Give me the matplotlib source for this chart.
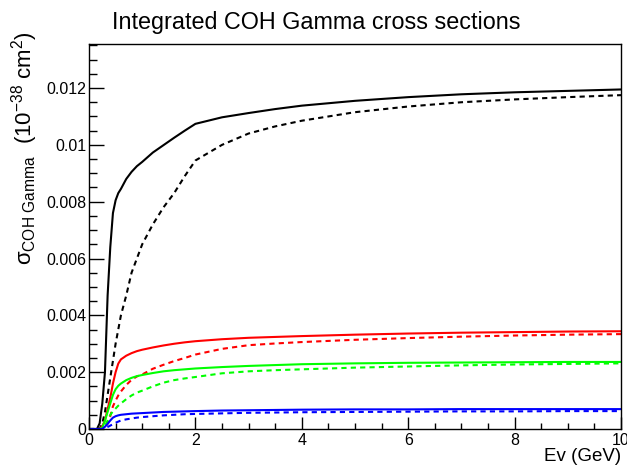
import matplotlib
matplotlib.use("Agg")
from matplotlib import pyplot as plt
from matplotlib.ticker import MultipleLocator

plt.rcParams['font.family'] = ['Liberation Sans', 'DejaVu Sans']
plt.rcParams['mathtext.fontset'] = 'custom'
plt.rcParams['mathtext.rm'] = 'Liberation Sans'
plt.rcParams['mathtext.it'] = 'Liberation Sans'
plt.rcParams['mathtext.bf'] = 'Liberation Sans:bold'

# neutrino energy grid (GeV)
energy = [0, 0.15, 0.2, 0.25, 0.3, 0.35, 0.4, 0.45, 0.5, 0.55, 0.6, 0.7, 0.8,
          0.9, 1.0, 1.2, 1.4, 1.6, 1.8, 2.0, 2.5, 3.0, 3.5, 4.0, 5.0, 6.0,
          7.0, 8.0, 9.0, 10.0]

# cross sections (1e-38 cm2)
black_solid = [0, 0, 0.0002, 0.0009, 0.002, 0.0047, 0.0064, 0.0076, 0.00805,
               0.0083, 0.00845, 0.0088, 0.00905, 0.00925, 0.0094, 0.00973,
               0.00999, 0.01025, 0.0105, 0.01074, 0.01097, 0.01112, 0.01126,
               0.01138, 0.01155, 0.01168, 0.01178, 0.01185, 0.0119, 0.01195]
black_dashed = [0, 0, 0, 0.0002, 0.0006, 0.0012, 0.0018, 0.0024, 0.0030,
                0.0035, 0.0040, 0.0047, 0.0055, 0.0060, 0.0065, 0.0072,
                0.0078, 0.0083, 0.0089, 0.00945, 0.0100, 0.0104, 0.01065,
                0.01085, 0.01115, 0.01135, 0.0115, 0.0116, 0.01168, 0.01175]
red_solid = [0, 0, 0, 0.0001, 0.0003, 0.0007, 0.0011, 0.0016, 0.0020,
             0.0023, 0.00245, 0.00258, 0.00267, 0.00274, 0.00279, 0.00287,
             0.00294, 0.0030, 0.00305, 0.00309, 0.00316, 0.00321, 0.00324,
             0.00327, 0.00332, 0.00336, 0.00339, 0.00341, 0.00343, 0.00344]
red_dashed = [0, 0, 0, 0, 0.00005, 0.0002, 0.00045, 0.0008, 0.0010, 0.00118,
              0.00132, 0.00155, 0.00173, 0.00185, 0.00192, 0.00212, 0.00226,
              0.00239, 0.0025, 0.00262, 0.00282, 0.00295, 0.00301, 0.00306,
              0.00314, 0.0032, 0.00325, 0.00329, 0.00332, 0.00334]
green_solid = [0, 0, 0, 0.00005, 0.0003, 0.0006, 0.0009, 0.0012, 0.0014,
               0.00152, 0.0016, 0.00172, 0.0018, 0.00186, 0.0019, 0.00197,
               0.00203, 0.00207, 0.0021, 0.00213, 0.00218, 0.00222, 0.00225,
               0.00228, 0.00231, 0.00233, 0.00234, 0.00235, 0.00236, 0.00236]
green_dashed = [0, 0, 0, 0, 0.0001, 0.0003, 0.0005, 0.00062, 0.00072,
                0.00082, 0.0009, 0.00105, 0.00118, 0.00128, 0.00135, 0.0015,
                0.00163, 0.00172, 0.00178, 0.00183, 0.00196, 0.00203, 0.00207,
                0.0021, 0.00216, 0.0022, 0.00224, 0.00227, 0.00229, 0.00231]
blue_solid = [0, 0, 0, 0, 0.00008, 0.00018, 0.0003, 0.0004, 0.00045,
              0.00048, 0.0005, 0.00052, 0.00054, 0.00055, 0.00056, 0.00058,
              0.0006, 0.00061, 0.00062, 0.00063, 0.00065, 0.00066, 0.00067,
              0.00068, 0.00069, 0.00069, 0.0007, 0.0007, 0.0007, 0.0007]
blue_dashed = [0, 0, 0, 0, 0.00003, 0.00007, 0.00012, 0.00017, 0.00022,
               0.00026, 0.0003, 0.00034, 0.00037, 0.0004, 0.00042, 0.00045,
               0.00048, 0.0005, 0.00052, 0.00053, 0.00055, 0.00057, 0.00058,
               0.00059, 0.0006, 0.00061, 0.00062, 0.00062, 0.00063, 0.00063]

curves = [
    (black_solid, 'black', '-'), (black_dashed, 'black', '--'),
    (red_solid, '#ff0000', '-'), (red_dashed, '#ff0000', '--'),
    (green_solid, '#00ff00', '-'), (green_dashed, '#00ff00', '--'),
    (blue_solid, '#0000ff', '-'), (blue_dashed, '#0000ff', '--'),
]

fig = plt.figure(figsize=(6.27, 4.65), dpi=100)
ax = fig.add_axes([89 / 627, 36 / 465, 532 / 627, 385 / 465])

for values, colour, style in curves:
    if style == '--':
        ax.plot(energy, values, color=colour, lw=1.5, linestyle=(0, (2.5, 2)),
                dash_joinstyle='round')
    else:
        ax.plot(energy, values, color=colour, lw=1.5, solid_joinstyle='round')

ax.set_xlim(0, 10)
ax.set_ylim(0, 0.01355)
ax.xaxis.set_minor_locator(MultipleLocator(0.5))
ax.yaxis.set_minor_locator(MultipleLocator(0.0005))
ax.set_xticks([0, 2, 4, 6, 8, 10], ['0', '2', '4', '6', '8', '10'])
ax.set_yticks([0, 0.002, 0.004, 0.006, 0.008, 0.01, 0.012],
              ['0', '0.002', '0.004', '0.006', '0.008', '0.01', '0.012'])

ax.tick_params(axis='both', which='both', direction='in', top=False,
               right=False, labelsize=11.5)
ax.tick_params(axis='y', which='major', length=11, width=1, pad=2)
ax.tick_params(axis='y', which='minor', length=6, width=1)
ax.tick_params(axis='x', which='major', length=9, width=1, pad=3)
ax.tick_params(axis='x', which='minor', length=4.5, width=1)
for sp in ax.spines.values():
    sp.set_linewidth(1)

fig.text(316 / 627, 1 - 22 / 465, 'Integrated COH Gamma cross sections',
         ha='center', va='center', fontsize=16.8)
fig.text(621 / 627, 1 - 456 / 465, 'Ev (GeV)', ha='right', va='center',
         fontsize=13.5)
fig.text(25 / 627, 1 - 148 / 465,
         r'$\sigma_{COH\ Gamma}$  (10$^{-38}$ cm$^{2}$)',
         rotation=90, ha='center', va='center', fontsize=16)

fig.savefig('out.png', dpi=100)
